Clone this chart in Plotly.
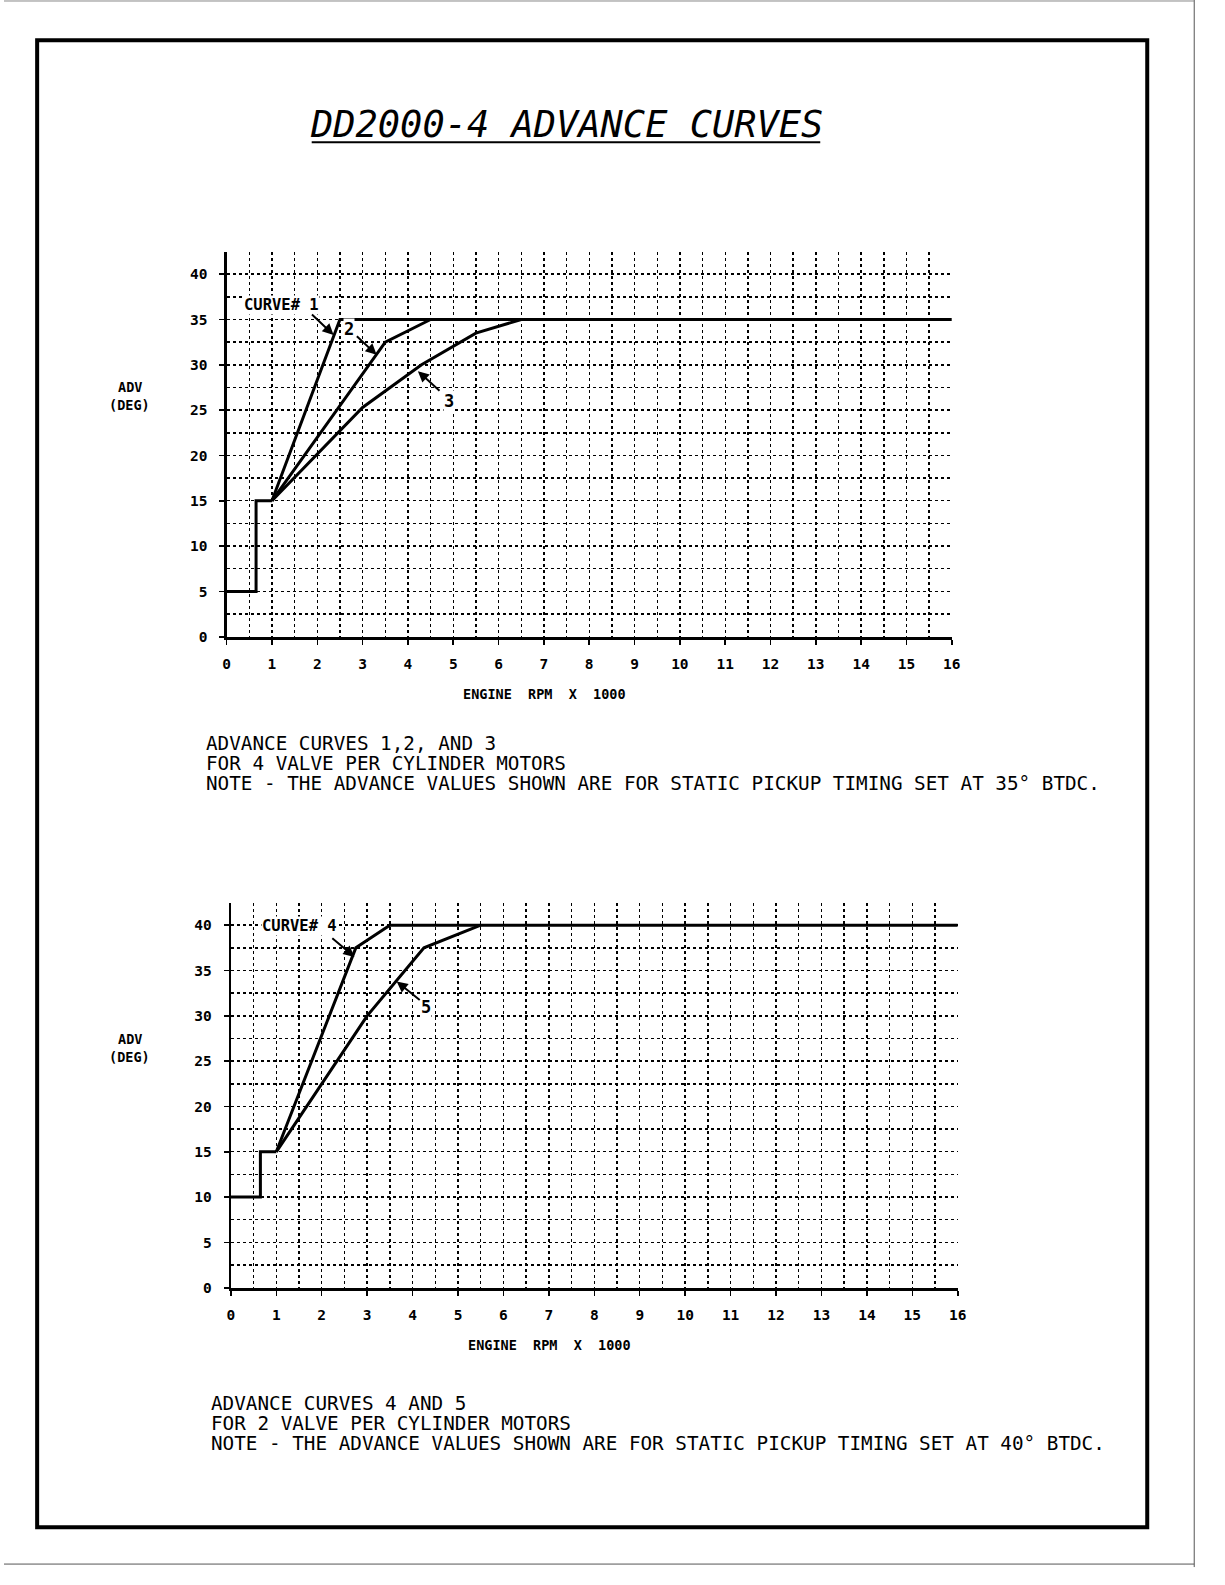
import plotly.graph_objects as go

W, H = 1225, 1585

# ---------------- data ----------------
# top chart: curves 1,2,3 (4 valve per cylinder)
step_top_rpm = [0, 0.65, 0.65, 1.0]
step_top_adv = [5, 5, 15, 15]
c1_rpm = [1.0, 2.5, 16.0]
c1_adv = [15, 35, 35]
c2_rpm = [1.0, 3.5, 4.5]
c2_adv = [15, 32.5, 35]
c3_rpm = [1.0, 3.0, 4.3, 5.5, 6.5]
c3_adv = [15, 25.3, 30, 33.5, 35]

# bottom chart: curves 4,5 (2 valve per cylinder)
step_bot_rpm = [0, 0.65, 0.65, 1.0]
step_bot_adv = [10, 10, 15, 15]
c4_rpm = [1.0, 2.75, 3.5, 16.0]
c4_adv = [15, 37.5, 40, 40]
c5_rpm = [1.0, 3.0, 4.25, 5.5]
c5_adv = [15, 30, 37.5, 40]

x_ticks = list(range(0, 17))
y_ticks = [0, 5, 10, 15, 20, 25, 30, 35, 40]

title_text = "DD2000-4 ADVANCE CURVES"
note_top = ["ADVANCE CURVES 1,2, AND 3",
            "FOR 4 VALVE PER CYLINDER MOTORS",
            "NOTE - THE ADVANCE VALUES SHOWN ARE FOR STATIC PICKUP TIMING SET AT 35° BTDC."]
note_bot = ["ADVANCE CURVES 4 AND 5",
            "FOR 2 VALVE PER CYLINDER MOTORS",
            "NOTE - THE ADVANCE VALUES SHOWN ARE FOR STATIC PICKUP TIMING SET AT 40° BTDC."]

# ---------------- helpers ----------------
def px(x):
    return x / W

def py(y):
    return 1 - y / H

MONO = "DejaVu Sans Mono"
line_style = dict(color="black", width=3)

fig = go.Figure()

for rx, ry in [(step_top_rpm, step_top_adv), (c1_rpm, c1_adv), (c2_rpm, c2_adv), (c3_rpm, c3_adv)]:
    fig.add_trace(go.Scatter(x=rx, y=ry, mode="lines", line=line_style,
                             xaxis="x", yaxis="y", showlegend=False, hoverinfo="skip"))
for rx, ry in [(step_bot_rpm, step_bot_adv), (c4_rpm, c4_adv), (c5_rpm, c5_adv)]:
    fig.add_trace(go.Scatter(x=rx, y=ry, mode="lines", line=line_style,
                             xaxis="x2", yaxis="y2", showlegend=False, hoverinfo="skip"))

tickfont = dict(family=MONO, size=14.5, color="black", weight="bold")
GRIDW = 1.4

def xaxis_cfg(domain, anchor):
    return dict(domain=domain, anchor=anchor, range=[0, 16], tickmode="array",
                tickvals=x_ticks, ticktext=[str(t) for t in x_ticks],
                showgrid=True, gridcolor="black", gridwidth=GRIDW, griddash="dot",
                minor=dict(dtick=0.5, tick0=0, showgrid=True, gridcolor="black",
                           gridwidth=GRIDW, griddash="dot", ticks=""),
                showline=True, linecolor="black", linewidth=3,
                ticks="outside", ticklen=5, tickwidth=1.5, tickcolor="black",
                tickfont=tickfont, ticklabelstandoff=7, zeroline=False, fixedrange=True)

def yaxis_cfg(domain, anchor):
    return dict(domain=domain, anchor=anchor, range=[0, 42.4], tickmode="array",
                tickvals=y_ticks, ticktext=[str(t) for t in y_ticks],
                showgrid=True, gridcolor="black", gridwidth=GRIDW, griddash="dot",
                minor=dict(dtick=2.5, tick0=0, showgrid=True, gridcolor="black",
                           gridwidth=GRIDW, griddash="dot", ticks=""),
                showline=True, linecolor="black", linewidth=2.2,
                ticks="outside", ticklen=5, tickwidth=1.5, tickcolor="black",
                tickfont=tickfont, ticklabelstandoff=9, zeroline=False, fixedrange=True)

fig.update_layout(
    width=W, height=H, margin=dict(l=0, r=0, t=0, b=0),
    paper_bgcolor="white", plot_bgcolor="white",
    xaxis=xaxis_cfg([px(225), px(958)], "y"),
    yaxis=yaxis_cfg([py(640), py(253.7)], "x"),
    xaxis2=xaxis_cfg([px(229.3), px(964)], "y2"),
    yaxis2=yaxis_cfg([py(1294.3), py(908)], "x2"),
)

ann = []
# title
ann.append(dict(x=px(569), y=py(125), xref="paper", yref="paper", text=title_text,
                showarrow=False, font=dict(family=MONO, size=37, color="black", style="italic"),
                xanchor="center", yanchor="middle"))
# axis titles
for cx, cy in [(546.7, 698), (551.6, 1352)]:
    ann.append(dict(x=px(cx), y=py(cy), xref="paper", yref="paper", text="ENGINE  RPM  X  1000",
                    showarrow=False, font=dict(family=MONO, size=13.5, color="black", weight="bold"),
                    xanchor="center", yanchor="middle"))
for cy in [389, 1044]:
    ann.append(dict(x=px(127), y=py(cy), xref="paper", yref="paper", text="ADV",
                    showarrow=False, font=dict(family=MONO, size=13.5, color="black", weight="bold"),
                    xanchor="center", yanchor="middle"))
    ann.append(dict(x=px(127), y=py(cy + 18), xref="paper", yref="paper", text="(DEG)",
                    showarrow=False, font=dict(family=MONO, size=13.5, color="black", weight="bold"),
                    xanchor="center", yanchor="middle"))
# notes
for lines, x0, ys in [(note_top, 202, [747, 767, 787]), (note_bot, 207, [1411, 1431, 1451])]:
    for t, yy in zip(lines, ys):
        ann.append(dict(x=px(x0), y=py(yy), xref="paper", yref="paper", text=t,
                        showarrow=False, font=dict(family=MONO, size=19.3, color="black"),
                        xanchor="left", yanchor="middle"))

# curve labels (text) in data coords
for t, x, y, xr, yr, sz in [("CURVE# 1", 1.20, 36.6, "x", "y", 15.5),
                            ("2", 2.70, 34.0, "x", "y", 17),
                            ("3", 4.90, 26.0, "x", "y", 17),
                            ("CURVE# 4", 1.50, 39.9, "x2", "y2", 15.5),
                            ("5", 4.30, 31.0, "x2", "y2", 17)]:
    ann.append(dict(x=x, y=y, xref=xr, yref=yr, text=t, showarrow=False,
                    font=dict(family=MONO, size=sz, color="black", weight="bold"),
                    bgcolor="white", borderpad=0, xanchor="center", yanchor="middle"))
# arrows: head at curve, tail near label
for hx, hy, tx, ty, xr, yr in [(2.36, 33.3, 1.85, 35.7, "x", "y"),
                               (3.31, 31.1, 2.84, 33.3, "x", "y"),
                               (4.22, 29.3, 4.73, 27.0, "x", "y"),
                               (2.72, 36.5, 2.20, 38.7, "x2", "y2"),
                               (3.65, 33.8, 4.19, 31.6, "x2", "y2")]:
    ann.append(dict(x=hx, y=hy, xref=xr, yref=yr, ax=tx, ay=ty, axref=xr, ayref=yr,
                    text="", showarrow=True, arrowhead=2, arrowsize=1.1, arrowwidth=2,
                    arrowcolor="black", standoff=0, startstandoff=0))
fig.update_layout(annotations=ann)

shapes = []
# title underline
shapes.append(dict(type="line", xref="paper", yref="paper", x0=px(311), x1=px(825),
                   y0=py(143), y1=py(143), line=dict(color="black", width=2)))
# page frame
shapes.append(dict(type="rect", xref="paper", yref="paper", x0=px(33.5), x1=px(1155.5),
                   y0=py(1535), y1=py(40.5), line=dict(color="black", width=4)))
# scan page edges
shapes.append(dict(type="line", xref="paper", yref="paper", x0=px(1203), x1=px(1203),
                   y0=py(0), y1=py(1575), line=dict(color="#555555", width=1)))
shapes.append(dict(type="line", xref="paper", yref="paper", x0=px(0), x1=px(1203),
                   y0=py(1572), y1=py(1572), line=dict(color="#555555", width=1)))
shapes.append(dict(type="line", xref="paper", yref="paper", x0=px(0), x1=px(1203),
                   y0=py(1), y1=py(1), line=dict(color="#888888", width=1)))
fig.update_layout(shapes=shapes)

fig.write_html("out.html", config={"staticPlot": True},
               post_script="document.body.style.margin='0';document.body.style.overflow='hidden';")
